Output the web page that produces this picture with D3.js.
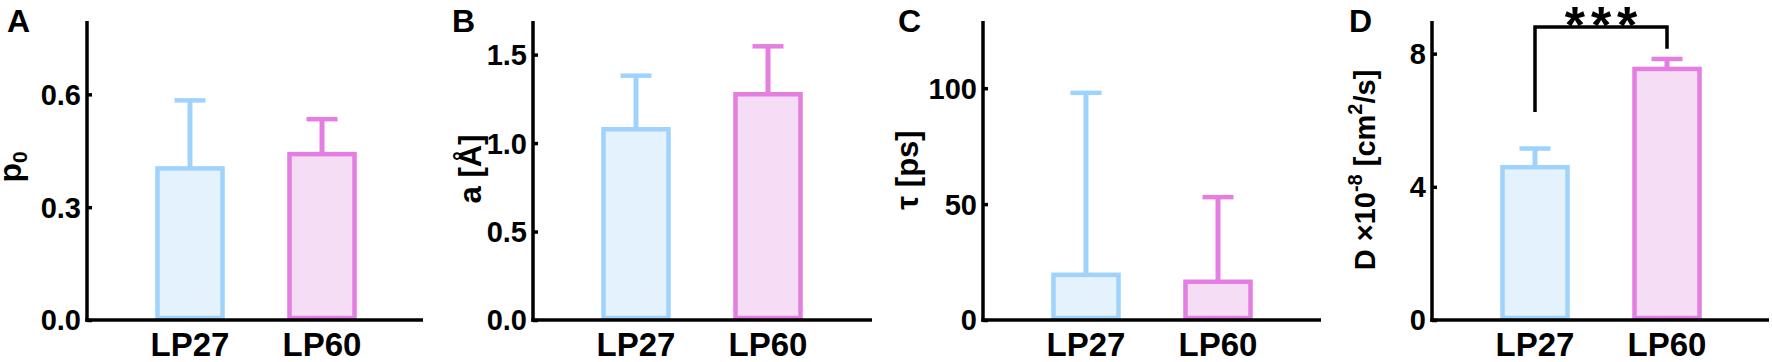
<!DOCTYPE html>
<html><head><meta charset="utf-8">
<script src="https://cdn.jsdelivr.net/npm/d3@7"></script>
<style>
html,body{margin:0;padding:0;background:#fff;}
text{font-family:"Liberation Sans",Arial,Helvetica,sans-serif;font-weight:bold;fill:#000;}
</style></head>
<body><svg id="chart" width="1772" height="362"></svg>
<script>
// ---- data ----
const categories = ["LP27", "LP60"];
const panelLetters = ["A", "B", "C", "D"];

const p0Mean = [0.403, 0.441];
const p0SD   = [0.181, 0.093];
const p0Ticks = [0.0, 0.3, 0.6];

const aMean = [1.078, 1.276];
const aSD   = [0.303, 0.271];
const aTicks = [0.0, 0.5, 1.0, 1.5];

const tauMean = [19.5, 16.5];
const tauSD   = [78.5, 36.5];
const tauTicks = [0, 50, 100];

const dMean = [4.59, 7.54];
const dSD   = [0.56, 0.30];
const dTicks = [0, 4, 8];

const yMax = [0.795, 1.69, 129, 8.98];
const sigBracket = [6.25, 8.8, 8.15]; // left end, top, right end (data units)
const sigLabel = "***";

// ---- style / layout ----
const strokeCols = ["#9fd3fb", "#e47ee0"];
const fillCols = ["#e3f2fd", "#f5ddf5"];
const axisX = [87, 533, 983, 1432];
const axisEnd = [423, 872, 1321, 1769];
const letterX = [7, 452, 898, 1349];
const yTop = 21, yBase = 320;

const svg = d3.select("#chart");

const panels = [
  {mean: p0Mean, sd: p0SD, ticks: p0Ticks, fmt: d3.format(".1f")},
  {mean: aMean, sd: aSD, ticks: aTicks, fmt: d3.format(".1f")},
  {mean: tauMean, sd: tauSD, ticks: tauTicks, fmt: d3.format("d")},
  {mean: dMean, sd: dSD, ticks: dTicks, fmt: d3.format("d")}
];

panels.forEach((p, i) => {
  const g = svg.append("g");
  const y = d3.scaleLinear().domain([0, yMax[i]]).range([yBase, yTop]);
  const x = d3.scalePoint().domain(categories).range([axisX[i] + 103, axisX[i] + 235]);
  const barW = 65, capW = 31;

  categories.forEach((c, j) => {
    const cx = x(c);
    const top = y(p.mean[j]);
    const capY = y(p.mean[j] + p.sd[j]);
    g.append("line").attr("x1", cx).attr("x2", cx).attr("y1", top).attr("y2", capY)
      .attr("stroke", strokeCols[j]).attr("stroke-width", 5);
    g.append("line").attr("x1", cx - capW / 2).attr("x2", cx + capW / 2).attr("y1", capY).attr("y2", capY)
      .attr("stroke", strokeCols[j]).attr("stroke-width", 4.5);
    g.append("rect").attr("x", cx - barW / 2).attr("y", top).attr("width", barW)
      .attr("height", y(0) - top - 2)
      .attr("fill", fillCols[j]).attr("stroke", strokeCols[j]).attr("stroke-width", 4.5);
  });

  const yAxis = d3.axisRight(y).tickValues(p.ticks).tickSize(5).tickFormat("");
  const ya = g.append("g").attr("transform", `translate(${axisX[i]},0)`).call(yAxis);
  ya.select(".domain").remove();
  ya.selectAll(".tick line").attr("stroke", "#000").attr("stroke-width", 3.5);
  g.append("line").attr("x1", axisX[i]).attr("x2", axisX[i]).attr("y1", yTop).attr("y2", yBase + 1.75)
    .attr("stroke", "#000").attr("stroke-width", 3.5);
  p.ticks.forEach(t => {
    g.append("text").attr("x", axisX[i] - 6).attr("y", y(t)).attr("dy", "0.36em")
      .attr("text-anchor", "end").attr("font-size", 29).text(p.fmt(t));
  });

  g.append("line").attr("x1", axisX[i] - 1.75).attr("x2", axisEnd[i]).attr("y1", yBase).attr("y2", yBase)
    .attr("stroke", "#000").attr("stroke-width", 3.5);
  categories.forEach(c => {
    g.append("text").attr("x", x(c)).attr("y", 356).attr("text-anchor", "middle")
      .attr("font-size", 33).text(c);
  });

  g.append("text").attr("x", letterX[i]).attr("y", 32).attr("font-size", 32)
    .attr("text-anchor", "start").text(panelLetters[i]);

  if (i === 3) {
    const xl = x(categories[0]), xr = x(categories[1]);
    g.append("path")
      .attr("d", `M${xl},${y(sigBracket[0])}V${y(sigBracket[1])}H${xr}V${y(sigBracket[2])}`)
      .attr("fill", "none").attr("stroke", "#000").attr("stroke-width", 3.5);
    g.append("text").attr("x", (xl + xr) / 2 + 3).attr("y", 43).attr("text-anchor", "middle")
      .attr("font-size", 52).attr("letter-spacing", 6).text(sigLabel);
  }
});

function ylab(x, yc, fs) {
  return svg.append("text").attr("transform", `translate(${x},${yc}) rotate(-90)`)
    .attr("text-anchor", "middle").attr("font-size", fs);
}
const la = ylab(21, 167, 32);
la.append("tspan").text("p");
la.append("tspan").attr("font-size", 21).attr("dy", 6).text("0");

ylab(481, 169, 31).text("a [Å]");
ylab(918, 170, 31).text("τ [ps]");

const ld = ylab(1375, 170, 29);
ld.append("tspan").text("D ×10");
ld.append("tspan").attr("font-size", 20).attr("dy", -13).text("-8");
ld.append("tspan").attr("dy", 13).text(" [cm");
ld.append("tspan").attr("font-size", 20).attr("dy", -13).text("2");
ld.append("tspan").attr("dy", 13).text("/s]");
</script></body></html>
